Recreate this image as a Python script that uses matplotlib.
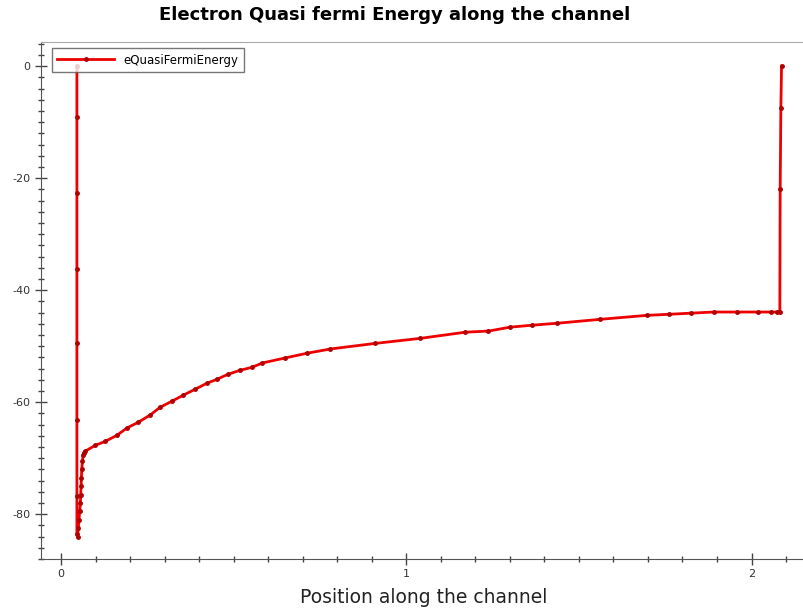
import matplotlib
matplotlib.use("Agg")
from matplotlib import pyplot as plt
from matplotlib.ticker import MultipleLocator

plt.rcParams['font.family'] = ['DejaVu Sans']
plt.rcParams['axes.unicode_minus'] = False

# position along the channel and electron quasi fermi energy
pos = [0.046, 0.046, 0.046, 0.046, 0.046, 0.046, 0.046, 0.046,
       0.048, 0.050, 0.052, 0.054, 0.056, 0.057, 0.058, 0.059, 0.060, 0.062, 0.064, 0.066,
       0.070, 0.099, 0.128, 0.162, 0.191, 0.223, 0.258, 0.287, 0.322, 0.354,
       0.388, 0.423, 0.452, 0.484, 0.519, 0.554, 0.583, 0.649, 0.713, 0.780,
       0.910, 1.041, 1.171, 1.238, 1.301, 1.365, 1.438, 1.562, 1.696, 1.762,
       1.826, 1.890, 1.957, 2.020, 2.055, 2.075,
       2.082, 2.083, 2.085, 2.087]
energy = [0.0, -9.1, -22.7, -36.3, -49.5, -63.2, -76.8, -83.6,
          -84.0, -82.5, -81.0, -79.5, -78.0, -76.5, -75.0, -73.5, -72.0, -70.5, -69.5, -69.0,
          -68.75, -67.7, -67.0, -65.9, -64.6, -63.6, -62.3, -60.9, -59.8, -58.75,
          -57.7, -56.6, -55.9, -55.0, -54.3, -53.75, -53.0, -52.1, -51.25, -50.5,
          -49.5, -48.6, -47.5, -47.3, -46.6, -46.25, -45.9, -45.2, -44.5, -44.3,
          -44.1, -43.9, -43.9, -43.9, -43.9, -43.9,
          -43.9, -22.0, -7.5, 0.0]

fig = plt.figure(figsize=(8.04, 6.09), dpi=100)
ax = fig.add_axes([0.051, 0.082, 0.952, 0.849])

ax.plot(pos, energy, color="#ee0000", linewidth=2, marker="o", markersize=2.5,
        markerfacecolor="#b00000", markeredgecolor="#b00000", label="eQuasiFermiEnergy")

ax.set_xlim(-0.058, 2.159)
ax.set_ylim(-88.0, 4.3)
ax.xaxis.set_major_locator(MultipleLocator(1))
ax.xaxis.set_minor_locator(MultipleLocator(0.1))
ax.yaxis.set_major_locator(MultipleLocator(20))
ax.yaxis.set_minor_locator(MultipleLocator(2))
ax.tick_params(which="major", direction="inout", length=8, width=1, colors="#444444",
               labelsize=8, labelcolor="#333333")
ax.tick_params(which="minor", direction="inout", length=4, width=1, colors="#444444")

for s in ["left", "bottom"]:
    ax.spines[s].set_color("#555555")
ax.spines["top"].set_color("#aaaaaa")
ax.spines["right"].set_visible(False)

ax.set_title("Electron Quasi fermi Energy along the channel", fontsize=13,
             fontweight="bold", pad=16, x=0.462)
ax.set_xlabel("Position along the channel", fontsize=13.5, labelpad=6, color="#222222")

leg = ax.legend(loc="upper left", bbox_to_anchor=(0.0144, 0.988), borderaxespad=0,
                fontsize=8.5, frameon=True, fancybox=False,
                handlelength=4.8, borderpad=0.45)
leg.get_frame().set_edgecolor("#555555")
leg.get_frame().set_linewidth(1)

plt.savefig("out.png")
